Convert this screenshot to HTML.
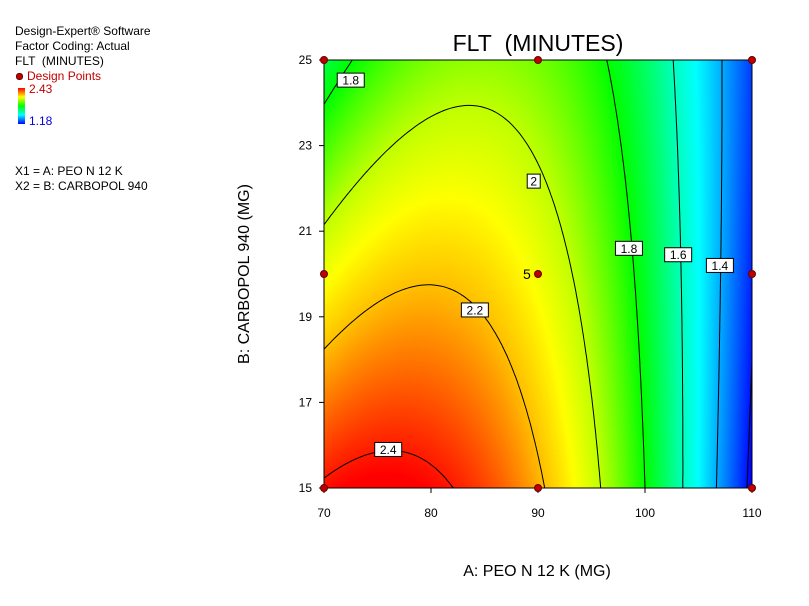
<!DOCTYPE html>
<html><head><meta charset="utf-8">
<style>
body{margin:0;background:#fff;width:809px;height:606px;overflow:hidden;font-family:"Liberation Sans",sans-serif;}
.t{position:absolute;font-size:12px;color:#000;white-space:pre;line-height:14px}
#plot{position:absolute;left:0;top:0}
</style></head><body>
<div class="t" style="left:15px;top:24px">Design-Expert® Software</div>
<div class="t" style="left:15px;top:39px">Factor Coding: Actual</div>
<div class="t" style="left:15px;top:54px">FLT  (MINUTES)</div>
<div class="t" style="left:15px;top:69px;color:#c00000"><span style="display:inline-block;width:5px;height:5px;border-radius:3px;background:#c00000;border:1px solid #600;margin:0 4px 1px 1px;vertical-align:middle"></span>Design Points</div>
<div style="position:absolute;left:18px;top:88px;width:7px;height:36px;background:linear-gradient(#f00,#ff0,#0f0,#0ff,#00f)"></div>
<div class="t" style="left:29px;top:82px;color:#c00000">2.43</div>
<div class="t" style="left:29px;top:114px;color:#0000e0">1.18</div>
<div class="t" style="left:15px;top:164px">X1 = A: PEO N 12 K</div>
<div class="t" style="left:15px;top:179px">X2 = B: CARBOPOL 940</div>
<canvas id="heat" width="428" height="428" style="position:absolute;left:324px;top:60px"></canvas>
<svg id="plot" width="809" height="606"></svg>
<script>
// model coefficients in coded units: b0, a, b, ab, a^2, b^2
const coefficients=[2.08,-0.43,-0.15,0.195,-0.43,-0.01];
const contourLevels=[1.2,1.4,1.6,1.8,2.0,2.2,2.4];
const contourLabels=["1.2","1.4","1.6","1.8","2","2.2","2.4"];
const labelLevels=["1.4","1.6","1.8","2","2.2","2.4"];
const labelA=[107,103.1,98.5,89.6,84.1,76];
const labelB=[20.2,20.45,20.6,22.17,19.16,15.9];
const extraLabelA=[72.5];const extraLabelB=[24.53];const extraLabelText=["1.8"];
const designA=[70,90,110,70,90,110,70,90,110];
const designB=[15,15,15,20,20,20,25,25,25];
const xTicks=[70,80,90,100,110];
const yTicks=[15,17,19,21,23,25];
const colorStopValues=[1.18,1.4,1.6,1.8,2.0,2.2,2.43];
const colorStopHues=[240,200,165,120,75,45,0];
const L=324,T=60,W=428,H=428;
const xs=a=>L+(a-70)/40*W, ys=b=>T+(25-b)/10*H;
function f(A,B){const a=(A-90)/20,b=(B-20)/5,c=coefficients;return c[0]+c[1]*a+c[2]*b+c[3]*a*b+c[4]*a*a+c[5]*b*b;}
function hueOf(v){const s=colorStopValues,h=colorStopHues;if(v<=s[0])return h[0];if(v>=s[s.length-1])return h[h.length-1];
for(let i=0;i<s.length-1;i++)if(v<=s[i+1]){const t=(v-s[i])/(s[i+1]-s[i]);return h[i]+(h[i+1]-h[i])*t;}}
const cv=document.getElementById('heat'),ctx=cv.getContext('2d');
const img=ctx.createImageData(W,H);
function hsv(h){h=((h%360)+360)%360;const x=1-Math.abs((h/60)%2-1);let r,g,b;
if(h<60){r=1;g=x;b=0}else if(h<120){r=x;g=1;b=0}else if(h<180){r=0;g=1;b=x}else if(h<240){r=0;g=x;b=1}else{r=x;g=0;b=1}return[r*255,g*255,b*255];}
for(let j=0;j<H;j++)for(let i=0;i<W;i++){const v=f(70+i/W*40,25-j/H*10);
const c=hsv(hueOf(v));const k=(j*W+i)*4;img.data[k]=c[0];img.data[k+1]=c[1];img.data[k+2]=c[2];img.data[k+3]=255;}
ctx.putImageData(img,0,0);
const svg=document.getElementById('plot');const NS='http://www.w3.org/2000/svg';
function el(n,a,p){const e=document.createElementNS(NS,n);for(const k in a)e.setAttribute(k,a[k]);(p||svg).appendChild(e);return e;}
const N=120;
contourLevels.forEach((lv,li)=>{let d='';
for(let j=0;j<N;j++)for(let i=0;i<N;i++){
const A0=70+i/N*40,A1=70+(i+1)/N*40,B0=25-j/N*10,B1=25-(j+1)/N*10;
const p=[[A0,B0],[A1,B0],[A1,B1],[A0,B1]];const v=p.map(q=>f(q[0],q[1])-lv);
const pts=[];for(let e=0;e<4;e++){const a=e,b=(e+1)%4;if((v[a]>0)!==(v[b]>0)){const t=v[a]/(v[a]-v[b]);
pts.push([xs(p[a][0]+(p[b][0]-p[a][0])*t),ys(p[a][1]+(p[b][1]-p[a][1])*t)]);}}
for(let k=0;k+1<pts.length;k+=2)d+='M'+pts[k][0].toFixed(1)+' '+pts[k][1].toFixed(1)+'L'+pts[k+1][0].toFixed(1)+' '+pts[k+1][1].toFixed(1);}
const path=el('path',{d:d,stroke:'#000','stroke-width':1,fill:'none'});


});
function label(x,y,txt){const w=txt.length*7+6;const g=el('g',{});


el('rect',{x:x-w/2,y:y-7,width:w,height:14,fill:'#fff',stroke:'#000','stroke-width':1},g);
const t=el('text',{x:x,y:y+4.5,'text-anchor':'middle','font-size':12,fill:'#000'},g);t.textContent=txt;}
labelLevels.forEach((s,i)=>label(xs(labelA[i]),ys(labelB[i]),s));
extraLabelText.forEach((s,i)=>label(xs(extraLabelA[i]),ys(extraLabelB[i]),s));
const fr=el('rect',{x:L,y:T,width:W,height:H,fill:'none',stroke:'#000','stroke-width':1});


xTicks.forEach(v=>{el('line',{x1:xs(v),x2:xs(v),y1:T+H,y2:T+H+5,stroke:'#000'});
const t=el('text',{x:xs(v),y:T+H+29,'text-anchor':'middle','font-size':12});t.textContent=v;

});
yTicks.forEach(v=>{el('line',{x1:L-5,x2:L,y1:ys(v),y2:ys(v),stroke:'#000'});
const t=el('text',{x:L-12,y:ys(v)+4,'text-anchor':'end','font-size':12});t.textContent=v;

});
designA.forEach((a,i)=>{const c=el('circle',{cx:xs(a),cy:ys(designB[i]),r:3.5,fill:'#c00000',stroke:'#600','stroke-width':1});

});
const five=el('text',{x:xs(90)-15,y:ys(20)+5,'font-size':14});five.textContent='5';


const ti=el('text',{x:538,y:51,'text-anchor':'middle','font-size':23});ti.textContent='FLT\u00a0\u00a0(MINUTES)';


const xt=el('text',{x:537,y:576,'text-anchor':'middle','font-size':16});xt.textContent='A: PEO N 12 K (MG)';


const yt=el('text',{x:0,y:0,'text-anchor':'middle','font-size':16,transform:'translate(249,274) rotate(-90)'});yt.textContent='B: CARBOPOL 940 (MG)';


</script>
</body></html>
